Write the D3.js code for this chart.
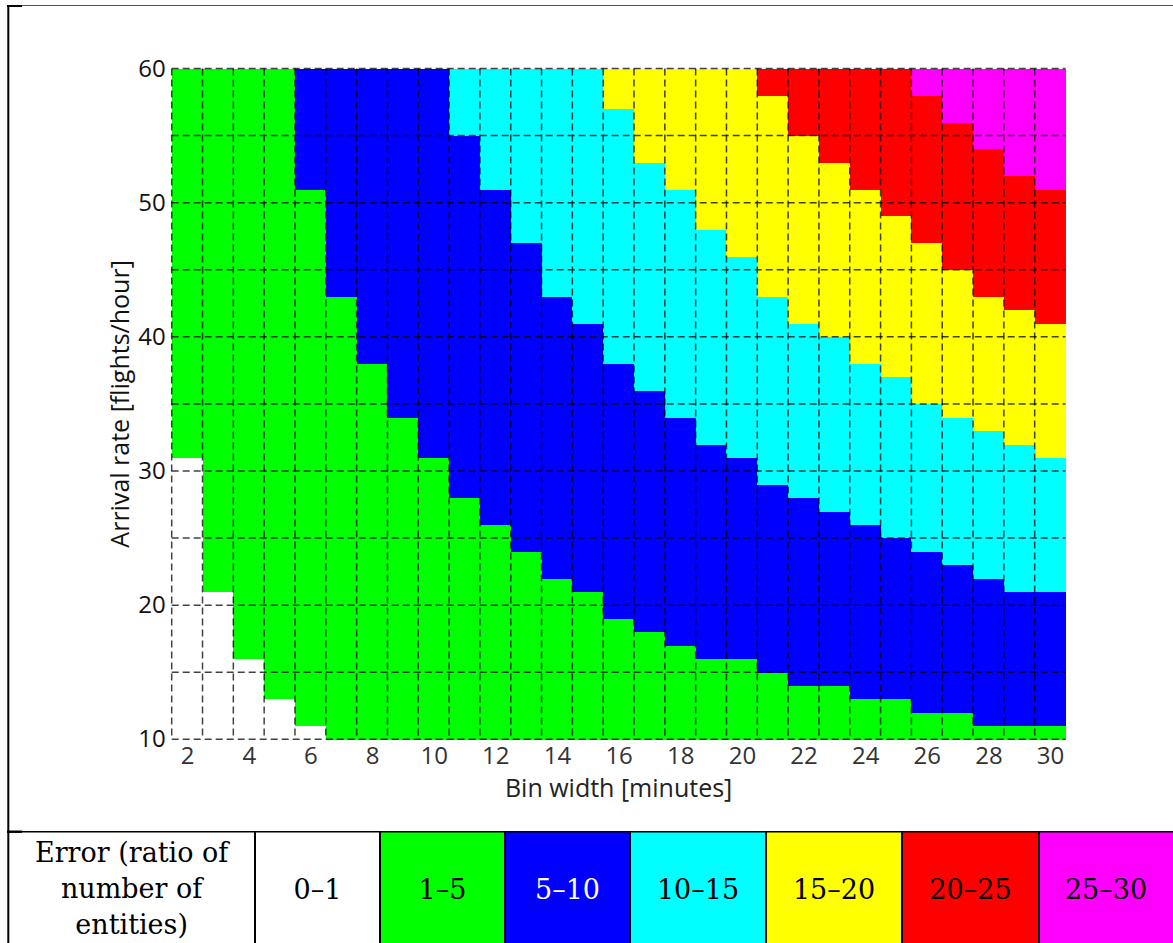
<!DOCTYPE html>
<html>
<head>
<meta charset="utf-8">
<script src="https://cdn.jsdelivr.net/npm/d3@7/dist/d3.min.js"></script>
<style>
  html, body { margin: 0; padding: 0; background: #fff; }
  svg { display: block; }
</style>
</head>
<body>
<svg id="fig" width="1173" height="943"></svg>
<script>
// Bin widths (minutes), one column each
const binWidths = [2, 3, 4, 5, 6, 7, 8, 9, 10, 11, 12, 13, 14, 15, 16, 17, 18, 19, 20, 21, 22, 23, 24, 25, 26, 27, 28, 29, 30];

// Upper arrival rate (flights/hour) reached by each error class, per bin width
const topClass0 = [31, 21, 16, 13, 11, 10, 10, 10, 10, 10, 10, 10, 10, 10, 10, 10, 10, 10, 10, 10, 10, 10, 10, 10, 10, 10, 10, 10, 10];
const topClass1 = [60, 60, 60, 60, 51, 43, 38, 34, 31, 28, 26, 24, 22, 21, 19, 18, 17, 16, 16, 15, 14, 14, 13, 13, 12, 12, 11, 11, 11];
const topClass2 = [60, 60, 60, 60, 60, 60, 60, 60, 60, 55, 51, 47, 43, 41, 38, 36, 34, 32, 31, 29, 28, 27, 26, 25, 24, 23, 22, 21, 21];
const topClass3 = [60, 60, 60, 60, 60, 60, 60, 60, 60, 60, 60, 60, 60, 60, 57, 53, 51, 48, 46, 43, 41, 40, 38, 37, 35, 34, 33, 32, 31];
const topClass4 = [60, 60, 60, 60, 60, 60, 60, 60, 60, 60, 60, 60, 60, 60, 60, 60, 60, 60, 60, 58, 55, 53, 51, 49, 47, 45, 43, 42, 41];
const topClass5 = [60, 60, 60, 60, 60, 60, 60, 60, 60, 60, 60, 60, 60, 60, 60, 60, 60, 60, 60, 60, 60, 60, 60, 60, 58, 56, 54, 52, 51];

// Error classes (ratio of number of entities)
const classLabels = ["0–1", "1–5", "5–10", "10–15", "15–20", "20–25", "25–30"];
const classColors = ["#ffffff", "#00ff00", "#0000ff", "#00ffff", "#ffff00", "#ff0000", "#ff00ff"];
const classTextColors = ["#000", "#000", "#fff", "#000", "#000", "#000", "#000"];
const legendTitle = ["Error (ratio of", "number of", "entities)"];

// Axes
const rateExtent = [10, 60];
const rateTicks = [10, 20, 30, 40, 50, 60];
const rateGrid = [10, 15, 20, 25, 30, 35, 40, 45, 50, 55, 60];
const binTicks = [2, 4, 6, 8, 10, 12, 14, 16, 18, 20, 22, 24, 26, 28, 30];
const xTitle = "Bin width [minutes]";
const yTitle = "Arrival rate [flights/hour]";

const svg = d3.select("#fig");

const plot = { left: 171.7, right: 1065.5, top: 68.5, bottom: 739.3 };
const x = d3.scaleLinear().domain([binWidths[0] - 0.5, binWidths[binWidths.length - 1] + 0.5]).range([plot.left, plot.right]);
const y = d3.scaleLinear().domain(rateExtent).range([plot.bottom, plot.top]);

// Cells: one segment per column and error class
const tops = [topClass0, topClass1, topClass2, topClass3, topClass4, topClass5];
const cells = [];
binWidths.forEach((b, i) => {
  for (let k = 0; k < classColors.length; k++) {
    const lo = k === 0 ? rateExtent[0] : tops[k - 1][i];
    const hi = k === classColors.length - 1 ? rateExtent[1] : tops[k][i];
    if (hi > lo) cells.push({ b, lo, hi, k });
  }
});

const gCells = svg.append("g");
gCells.selectAll("rect").data(cells).join("rect")
  .attr("x", d => x(d.b - 0.5))
  .attr("width", d => x(d.b + 0.5) - x(d.b - 0.5) + 0.4)
  .attr("y", d => y(d.hi))
  .attr("height", d => y(d.lo) - y(d.hi) + 0.4)
  .attr("fill", d => classColors[d.k])
  .attr("shape-rendering", "crispEdges");

// Dashed grid: column edges and every 5 flights/hour
const gGrid = svg.append("g")
  .attr("stroke", "rgba(0,0,0,0.74)")
  .attr("stroke-width", 1.5)
  .attr("stroke-dasharray", "7,4")
  .attr("fill", "none");
const colEdges = binWidths.map(b => b - 0.5);
gGrid.selectAll("line.v").data(colEdges).join("line").attr("class", "v")
  .attr("x1", d => x(d)).attr("x2", d => x(d))
  .attr("y1", plot.top).attr("y2", plot.bottom);
gGrid.selectAll("line.h").data(rateGrid).join("line").attr("class", "h")
  .attr("x1", plot.left).attr("x2", plot.right)
  .attr("y1", d => y(d)).attr("y2", d => y(d));

// Axes with tick labels only
const axisFont = "'Open Sans', 'DejaVu Sans', sans-serif";
const yAxis = svg.append("g")
  .attr("transform", `translate(${plot.left},0)`)
  .call(d3.axisLeft(y).tickValues(rateTicks).tickSize(0).tickPadding(6).tickFormat(d3.format("d")));
yAxis.select(".domain").remove();
yAxis.selectAll("text").attr("font-family", axisFont).attr("font-size", 24).attr("fill", "#111");

const xAxis = svg.append("g")
  .attr("transform", `translate(0,${plot.bottom})`)
  .call(d3.axisBottom(x).tickValues(binTicks).tickSize(0).tickPadding(8).tickFormat(d3.format("d")));
xAxis.select(".domain").remove();
xAxis.selectAll("text").attr("font-family", axisFont).attr("font-size", 24).attr("fill", "#333");

svg.append("text")
  .attr("x", (plot.left + plot.right) / 2).attr("y", 797)
  .attr("text-anchor", "middle")
  .attr("font-family", axisFont).attr("font-size", 25).attr("fill", "#222")
  .text(xTitle);

svg.append("text")
  .attr("transform", `translate(129,${(plot.top + plot.bottom) / 2}) rotate(-90)`)
  .attr("text-anchor", "middle")
  .attr("font-family", axisFont).attr("font-size", 25).attr("fill", "#111")
  .text(yTitle);

// Frame around the figure
svg.append("line").attr("x1", 8).attr("x2", 1173).attr("y1", 5.5).attr("y2", 5.5)
  .attr("stroke", "#555").attr("stroke-width", 1.2);
svg.append("line").attr("x1", 7).attr("x2", 22).attr("y1", 6).attr("y2", 6)
  .attr("stroke", "#000").attr("stroke-width", 2);
svg.append("line").attr("x1", 8.3).attr("x2", 8.3).attr("y1", 5).attr("y2", 943)
  .attr("stroke", "#000").attr("stroke-width", 2);

// Legend row: class ranges as coloured table cells
const rowTop = 831.7, rowBottom = 943;
const cellEdges = [8.3, 255, 380, 505, 630, 766, 902, 1039, 1173];
const legendCells = classLabels.map((lab, k) => ({ lab, k, x0: cellEdges[k + 1], x1: cellEdges[k + 2] }));
const serif = "'DejaVu Serif', 'Liberation Serif', serif";

const gLeg = svg.append("g");
gLeg.selectAll("rect").data(legendCells).join("rect")
  .attr("x", d => d.x0).attr("y", rowTop)
  .attr("width", d => d.x1 - d.x0).attr("height", rowBottom - rowTop)
  .attr("fill", d => classColors[d.k]);
gLeg.selectAll("text.lab").data(legendCells).join("text").attr("class", "lab")
  .attr("x", d => (d.x0 + d.x1) / 2).attr("y", 899)
  .attr("text-anchor", "middle")
  .attr("font-family", serif).attr("font-size", 27)
  .attr("fill", d => classTextColors[d.k])
  .text(d => d.lab);
gLeg.selectAll("text.title").data(legendTitle).join("text").attr("class", "title")
  .attr("x", (cellEdges[0] + cellEdges[1]) / 2)
  .attr("y", (d, i) => 862 + i * 36)
  .attr("text-anchor", "middle")
  .attr("font-family", serif).attr("font-size", 27).attr("fill", "#000")
  .text(d => d);

// Table borders
gLeg.append("line").attr("x1", 8).attr("x2", 1173).attr("y1", rowTop).attr("y2", rowTop)
  .attr("stroke", "#000").attr("stroke-width", 1.6);
gLeg.append("line").attr("x1", 7).attr("x2", 22).attr("y1", rowTop).attr("y2", rowTop)
  .attr("stroke", "#000").attr("stroke-width", 2.4);
gLeg.selectAll("line.sep").data(cellEdges.slice(1, -1)).join("line").attr("class", "sep")
  .attr("x1", d => d).attr("x2", d => d)
  .attr("y1", rowTop).attr("y2", rowBottom)
  .attr("stroke", "#000").attr("stroke-width", 2);
</script>
</body>
</html>
